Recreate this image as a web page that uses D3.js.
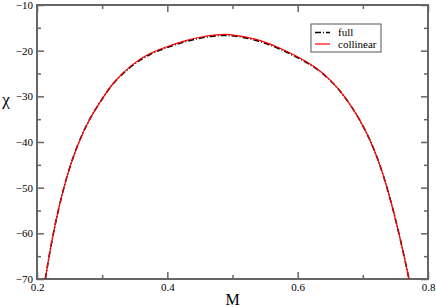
<!DOCTYPE html>
<html>
<head>
<meta charset="utf-8">
<script src="https://cdn.jsdelivr.net/npm/d3@7"></script>
<style>
  body { margin: 0; background: #fff; }
  svg { display: block; }
  text { font-family: "Liberation Serif", "DejaVu Serif", serif; }
</style>
</head>
<body>
<svg></svg>
<script>
const width = 436;
const height = 307;
const plotLeft = 37, plotRight = 428, plotTop = 5, plotBottom = 279;

// values
const mValues = [0.2128, 0.2185, 0.225, 0.2325, 0.241, 0.2512, 0.264, 0.2798, 0.3025, 0.3180,
  0.3478, 0.3734, 0.399, 0.4245, 0.4501, 0.4757, 0.4935, 0.5218, 0.5473, 0.573,
  0.5985, 0.626, 0.651, 0.6724, 0.6953, 0.7129, 0.7264, 0.7373, 0.7468, 0.7554, 0.7634, 0.7708];
const collinearChi = [-70, -65, -60, -55, -50, -45, -40, -35, -30, -26.7,
  -22.7, -20.5, -19.1, -17.9, -17.0, -16.5, -16.35, -17.0, -17.95, -19.4,
  -21.2, -23.4, -26.4, -30, -35, -40, -45, -50, -55, -60, -65, -70];
const fullChi = [-70, -65, -60, -55, -50, -45, -40, -35, -30, -26.8,
  -22.9, -20.7, -19.3, -18.1, -17.2, -16.7, -16.55, -17.2, -18.15, -19.6,
  -21.4, -23.5, -26.5, -30, -35, -40, -45, -50, -55, -60, -65, -70];
const xTicks = [0.2, 0.4, 0.6, 0.8];
const yTicks = [-10, -20, -30, -40, -50, -60, -70];
const seriesNames = ["full", "collinear"];

let svg = d3.select("svg")
    .attr("width", width)
    .attr("height", height);

const scX = d3.scaleLinear().domain([0.2, 0.8]).range([plotLeft, plotRight]);
const scY = d3.scaleLinear().domain([-70, -10]).range([plotBottom, plotTop]);

const frame = "#666";

// ticks on all four sides, pointing inward
const minorX = [0.3, 0.5, 0.7];
const minorY = [-15, -25, -35, -45, -55, -65];

svg.append("g").attr("transform", `translate(0,${plotBottom})`)
  .call(d3.axisBottom(scX).tickValues(xTicks).tickSize(-7).tickPadding(4).tickFormat(d3.format(".1f")));
svg.append("g").attr("transform", `translate(0,${plotBottom})`)
  .call(d3.axisBottom(scX).tickValues(minorX).tickSize(-4).tickFormat(""));
svg.append("g").attr("transform", `translate(0,${plotTop})`)
  .call(d3.axisTop(scX).tickValues(xTicks).tickSize(-7).tickFormat(""));
svg.append("g").attr("transform", `translate(0,${plotTop})`)
  .call(d3.axisTop(scX).tickValues(minorX).tickSize(-4).tickFormat(""));

svg.append("g").attr("transform", `translate(${plotLeft},0)`)
  .call(d3.axisLeft(scY).tickValues(yTicks).tickSize(-7).tickPadding(4).tickFormat(d3.format("d")));
svg.append("g").attr("transform", `translate(${plotLeft},0)`)
  .call(d3.axisLeft(scY).tickValues(minorY).tickSize(-4).tickFormat(""));
svg.append("g").attr("transform", `translate(${plotRight},0)`)
  .call(d3.axisRight(scY).tickValues(yTicks).tickSize(-7).tickFormat(""));
svg.append("g").attr("transform", `translate(${plotRight},0)`)
  .call(d3.axisRight(scY).tickValues(minorY).tickSize(-4).tickFormat(""));

svg.selectAll(".domain").remove();
svg.selectAll(".tick line").attr("stroke", frame).attr("stroke-width", 1.5);
svg.selectAll(".tick text")
  .attr("fill", "#000")
  .style("font-family", "'Liberation Serif', serif")
  .style("font-size", "11px");

svg.append("rect")
  .attr("x", plotLeft).attr("y", plotTop)
  .attr("width", plotRight - plotLeft).attr("height", plotBottom - plotTop)
  .attr("fill", "none").attr("stroke", frame).attr("stroke-width", 2);

// axis titles
svg.append("text").attr("x", (plotLeft + plotRight) / 2).attr("y", 305)
  .attr("text-anchor", "middle").style("font-size", "16px").text("M");
svg.append("text").attr("x", 6).attr("y", 105)
  .attr("text-anchor", "middle").style("font-size", "17px").text("χ");

// curves
const fullData = mValues.map((m, i) => ({ m: m, v: fullChi[i] }));
const colData = mValues.map((m, i) => ({ m: m, v: collinearChi[i] }));
const line = d3.line().x(d => scX(d.m)).y(d => scY(d.v)).curve(d3.curveBasis);

svg.append("path").datum(fullData)
  .attr("fill", "none").attr("stroke", "#000").attr("stroke-width", 1.6)
  .attr("stroke-dasharray", "6,2,1,2").attr("d", line);
svg.append("path").datum(colData)
  .attr("fill", "none").attr("stroke", "#ff0000").attr("stroke-width", 1.2)
  .attr("d", line);

// legend
const lg = svg.append("g");
lg.append("rect").attr("x", 311).attr("y", 24).attr("width", 70).attr("height", 28)
  .attr("fill", "#fff").attr("stroke", "#555").attr("stroke-width", 1);
const legColors = ["#000", "#ff0000"];
const legDash = ["6,2,1,2", null];
seriesNames.forEach((name, i) => {
  const y = 32.5 + i * 11.5;
  lg.append("line").attr("x1", 315).attr("x2", 330).attr("y1", y).attr("y2", y)
    .attr("stroke", legColors[i]).attr("stroke-width", i === 0 ? 1.6 : 1.2)
    .attr("stroke-dasharray", legDash[i]);
  lg.append("text").attr("x", 338).attr("y", y + 3.5)
    .style("font-size", "11px").text(name);
});
</script>
</body>
</html>
